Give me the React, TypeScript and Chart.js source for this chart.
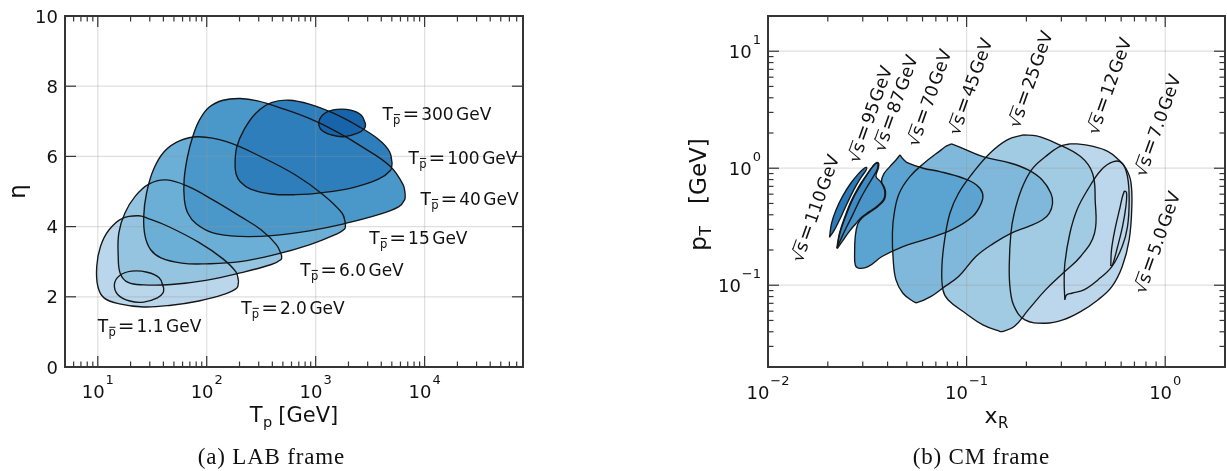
import React, { useEffect, useRef } from "react";
import { Chart, registerables } from "chart.js";
Chart.register(...registerables);

type P = [number, number];

// ---------------- (a) LAB frame ----------------
const labNames = ["1.1", "2.0", "6.0", "15", "40", "100", "300"];
const lab11: P[] = [[40.3,2.25],[36.6,2.54],[28.4,2.70],[20.4,2.73],[15.8,2.60],[14.2,2.35],[15.3,2.06],[19.7,1.88],[26.4,1.85],[35.3,1.97],[39.7,2.11],[40.3,2.25]];
const lab20: P[] = [[196,2.44],[186,2.70],[141,3.08],[84.7,3.55],[43.9,4.01],[28.4,4.24],[23.7,4.31],[17.0,4.24],[12.7,3.91],[10.6,3.44],[9.78,2.87],[10.0,2.30],[11.4,1.97],[15.8,1.80],[26.4,1.71],[47.3,1.76],[84.7,1.88],[141,2.06],[189,2.25],[196,2.44]];
const lab60: P[] = [[488,3.17],[437,3.48],[315,3.91],[203,4.29],[114,4.76],[68.1,5.14],[42.4,5.33],[29.4,5.21],[22.0,4.86],[17.7,4.38],[15.6,3.82],[15.4,3.15],[16.1,2.66],[19.0,2.41],[26.4,2.34],[47.3,2.35],[98.0,2.47],[203,2.68],[392,2.92],[481,3.06],[488,3.17]];
const lab15: P[] = [[1879,4.08],[1750,4.38],[1169,4.91],[653,5.47],[315,5.99],[152,6.42],[84.7,6.56],[56.8,6.45],[40.8,6.14],[32.4,5.62],[28.0,4.95],[26.4,4.29],[27.2,3.72],[30.6,3.34],[38.0,3.11],[58.9,2.96],[98.0,2.94],[203,3.00],[422,3.20],[874,3.48],[1510,3.77],[1842,3.93],[1879,4.08]];
const lab40: P[] = [[6643,4.91],[6353,5.19],[4853,5.71],[2812,6.23],[1567,6.70],[874,7.08],[488,7.37],[293,7.58],[203,7.65],[141,7.60],[105,7.40],[85.9,7.04],[74.3,6.56],[66.6,5.99],[62.0,5.33],[62.4,4.76],[67.1,4.38],[80.0,4.08],[114,3.82],[203,3.72],[422,3.75],[874,3.88],[1813,4.08],[3762,4.34],[5816,4.57],[6546,4.76],[6643,4.91]];
const lab100: P[] = [[5036,5.80],[4756,6.14],[3762,6.49],[2428,6.87],[1455,7.23],[874,7.49],[565,7.60],[392,7.53],[282,7.23],[219,6.75],[189,6.28],[182,5.80],[186,5.50],[203,5.28],[253,5.07],[392,4.93],[653,4.91],[1169,4.97],[2254,5.12],[3762,5.35],[4853,5.60],[5036,5.80]];
const lab300: P[] = [[2873,6.92],[2612,7.18],[2098,7.32],[1567,7.34],[1213,7.23],[1072,6.99],[1131,6.75],[1405,6.61],[1813,6.56],[2428,6.66],[2812,6.80],[2873,6.92]];
const labLabelX = [10, 207, 721, 3110, 9160, 7110, 4100];
const labLabelY = [1.16, 1.70, 2.78, 3.69, 4.80, 5.97, 7.22];
const labXMajor = [10, 100, 1000, 10000];
const labXExp = ["1", "2", "3", "4"];
const labYTicks = [0, 2, 4, 6, 8, 10];

// ---------------- (b) CM frame ----------------
const cmNames = ["5.0", "7.0", "12", "25", "45", "70", "87", "95", "110"];
const cm5: P[] = [[0.532,0.146],[0.5365,0.2005],[0.5577,0.297],[0.5909,0.455],[0.621,0.631],[0.6384,0.619],[0.6335,0.470],[0.6095,0.317],[0.5730,0.207],[0.5428,0.149],[0.532,0.146]];
const cm7: P[] = [[0.3124,0.0749],[0.3100,0.1039],[0.3124,0.154],[0.3311,0.278],[0.3592,0.440],[0.4064,0.652],[0.4760,0.967],[0.5491,1.139],[0.6071,1.103],[0.6458,0.848],[0.6584,0.536],[0.6458,0.317],[0.6071,0.214],[0.5386,0.144],[0.4580,0.1110],[0.3895,0.0912],[0.3388,0.0854],[0.3185,0.0826],[0.3124,0.0749]];
const cm12: P[] = [[0.3311,1.613],[0.3592,1.613],[0.4224,1.551],[0.5162,1.388],[0.5842,1.177],[0.6335,0.999],[0.6713,0.769],[0.6791,0.470],[0.6584,0.244],[0.6071,0.144],[0.5386,0.0973],[0.4580,0.0749],[0.3748,0.0595],[0.3053,0.0505],[0.2497,0.0473],[0.1966,0.0505],[0.1737,0.0657],[0.1659,0.0912],[0.1639,0.144],[0.1671,0.278],[0.1737,0.412],[0.1884,0.652],[0.2123,0.967],[0.2497,1.257],[0.2938,1.531],[0.3311,1.613]];
const cm25: P[] = [[0.1928,1.926],[0.2250,1.888],[0.2826,1.634],[0.3748,1.257],[0.4305,0.906],[0.4440,0.536],[0.4406,0.278],[0.3748,0.176],[0.3053,0.1265],[0.2497,0.0912],[0.2043,0.0615],[0.1737,0.0443],[0.1511,0.0402],[0.1477,0.0402],[0.1208,0.0458],[0.0988,0.0576],[0.0808,0.0749],[0.0760,0.0912],[0.0751,0.144],[0.0775,0.244],[0.0824,0.412],[0.0911,0.611],[0.1072,0.906],[0.1310,1.342],[0.1602,1.746],[0.1928,1.926]];
const cm45: P[] = [[0.0840,1.613],[0.0911,1.531],[0.1208,1.257],[0.1671,1.103],[0.2043,0.967],[0.2403,0.794],[0.2657,0.611],[0.2709,0.502],[0.2606,0.412],[0.2403,0.361],[0.2043,0.317],[0.1671,0.278],[0.1367,0.228],[0.1114,0.176],[0.0911,0.1185],[0.0775,0.0973],[0.0659,0.0799],[0.0562,0.0710],[0.0539,0.0725],[0.0478,0.0854],[0.0441,0.1110],[0.0427,0.165],[0.0423,0.278],[0.0432,0.412],[0.0458,0.611],[0.0518,0.848],[0.0610,1.103],[0.0745,1.434],[0.0793,1.551],[0.0840,1.613]];
const cm70: P[] = [[0.0462,1.299],[0.0480,1.193],[0.0509,1.103],[0.0605,0.999],[0.0734,0.936],[0.0962,0.821],[0.1122,0.720],[0.1203,0.611],[0.1189,0.508],[0.1072,0.386],[0.0840,0.297],[0.0610,0.244],[0.0478,0.214],[0.0375,0.176],[0.0319,0.144],[0.0285,0.140],[0.0275,0.149],[0.0273,0.188],[0.0275,0.260],[0.0283,0.334],[0.0298,0.378],[0.0327,0.422],[0.0358,0.472],[0.0384,0.534],[0.0391,0.603],[0.0387,0.676],[0.0373,0.770],[0.0383,0.894],[0.0411,1.033],[0.0441,1.177],[0.0462,1.299]];
const cm87: P[] = [[0.0223,0.2056],[0.0230,0.278],[0.0246,0.386],[0.0266,0.536],[0.0293,0.720],[0.0319,0.906],[0.0339,1.046],[0.0352,1.117],[0.0361,1.095],[0.0359,0.999],[0.0350,0.848],[0.0369,0.769],[0.0384,0.674],[0.0388,0.603],[0.0381,0.536],[0.0355,0.476],[0.0324,0.426],[0.0296,0.381],[0.0276,0.334],[0.0254,0.282],[0.0238,0.2407],[0.0223,0.2056]];
const cm95: P[] = [[0.0222,0.207],[0.0229,0.278],[0.0244,0.386],[0.0264,0.536],[0.0290,0.720],[0.0316,0.894],[0.0336,1.033],[0.0350,1.103],[0.0358,1.088],[0.0355,0.980],[0.0339,0.848],[0.0316,0.697],[0.0290,0.536],[0.0267,0.399],[0.0247,0.307],[0.0232,0.244],[0.0222,0.207]];
const cm110: P[] = [[0.0204,0.257],[0.0209,0.339],[0.0220,0.440],[0.0238,0.580],[0.0261,0.744],[0.0285,0.894],[0.0304,0.993],[0.0314,1.013],[0.0311,0.954],[0.0296,0.848],[0.0279,0.720],[0.0261,0.580],[0.0244,0.455],[0.0229,0.361],[0.0215,0.293],[0.0204,0.257]];
const cmLabelX = [0.907, 0.912, 0.520, 0.2089, 0.1039, 0.0646, 0.04375, 0.0325, 0.01723];
const cmLabelY = [0.232, 2.32, 5.05, 5.765, 4.983, 4.012, 3.594, 2.894, 0.455];
const cmXMajor = [0.01, 0.1, 1];
const cmXExp = ["\u22122", "\u22121", "0"];
const cmYMajor = [0.1, 1, 10];
const cmYExp = ["\u22121", "0", "1"];

// ---------------- styling ----------------
const W = 1227, H = 471;
const SANS = '"DejaVu Sans", sans-serif';
const SERIF = '"Liberation Serif", "DejaVu Serif", serif';
const labColors = ["#bdd7ec", "#bad6eb", "#94c4df", "#6baed6", "#4a98c9", "#2e7ebc", "#1764ab"];
const cmColors = ["#bdd7ec", "#bdd7ec", "#bcd7eb", "#a1cbe2", "#7fb8da", "#5ba3d0", "#4a95c8", "#3d8bc4", "#2b7bba"];

function minorLog(lo: number, hi: number): number[] {
  const out: number[] = [];
  for (let e = Math.floor(Math.log10(lo)); e <= Math.ceil(Math.log10(hi)); e++) {
    for (let m = 2; m <= 9; m++) {
      const v = m * Math.pow(10, e);
      if (v > lo * 1.0001 && v < hi * 0.9999) out.push(v);
    }
  }
  return out;
}

type Piece = { t: string; s: number; dy?: number; gap?: number; bar?: "sub" | "sqrt"; f?: string };

function runWidth(ctx: CanvasRenderingContext2D, pcs: Piece[]) {
  let w = 0;
  for (const p of pcs) {
    ctx.font = `${p.s}px ${p.f || SANS}`;
    w += (p.gap || 0) + ctx.measureText(p.t).width;
  }
  return w;
}

function drawRun(ctx: CanvasRenderingContext2D, pcs: Piece[], x: number, y: number) {
  let cx = x;
  let sq: { x: number; top: number } | null = null;
  ctx.lineWidth = 1;
  for (const p of pcs) {
    cx += p.gap || 0;
    ctx.font = `${p.s}px ${p.f || SANS}`;
    const m = ctx.measureText(p.t);
    const by = y + (p.dy || 0);
    ctx.fillText(p.t, cx, by);
    if (p.t === "\u221A") sq = { x: cx + m.width, top: by - m.actualBoundingBoxAscent };
    if (p.bar === "sqrt" && sq) {
      ctx.beginPath();
      ctx.moveTo(sq.x - 0.8, sq.top + 0.6);
      ctx.lineTo(cx + m.width + 0.3, sq.top + 0.6);
      ctx.stroke();
    }
    if (p.bar === "sub") {
      const top = by - m.actualBoundingBoxAscent - 2.2;
      ctx.beginPath();
      ctx.moveTo(cx + 0.8, top);
      ctx.lineTo(cx + m.width - 0.3, top);
      ctx.stroke();
    }
    cx += m.width;
  }
}

function powPieces(e: string): Piece[] {
  return [{ t: "10", s: 18 }, { t: e, s: 13, dy: -14, gap: 1 }];
}

function drawFrame(ctx: CanvasRenderingContext2D, a: any, xs: any, ys: any,
  xMaj: number[], xMin: number[], yMaj: number[], yMin: number[]) {
  ctx.save();
  ctx.strokeStyle = "#353535";
  ctx.lineWidth = 1.2;
  const tick = (x1: number, y1: number, x2: number, y2: number) => {
    ctx.beginPath(); ctx.moveTo(x1, y1); ctx.lineTo(x2, y2); ctx.stroke();
  };
  const ML = 11, mL = 5.5;
  xMaj.forEach(v => { const px = xs.getPixelForValue(v); tick(px, a.bottom, px, a.bottom - ML); tick(px, a.top, px, a.top + ML); });
  xMin.forEach(v => { const px = xs.getPixelForValue(v); tick(px, a.bottom, px, a.bottom - mL); tick(px, a.top, px, a.top + mL); });
  yMaj.forEach(v => { const py = ys.getPixelForValue(v); tick(a.left, py, a.left + ML, py); tick(a.right, py, a.right - ML, py); });
  yMin.forEach(v => { const py = ys.getPixelForValue(v); tick(a.left, py, a.left + mL, py); tick(a.right, py, a.right - mL, py); });
  ctx.lineWidth = 2;
  ctx.strokeRect(a.left, a.top, a.right - a.left, a.bottom - a.top);
  ctx.restore();
}

function fillAndGrid(chart: any, colors: string[], xGrid: number[], yGrid: number[]) {
  const ctx: CanvasRenderingContext2D = chart.ctx;
  const a = chart.chartArea;
  const xs = chart.scales.x, ys = chart.scales.y;
  ctx.save();
  ctx.beginPath();
  ctx.rect(a.left, a.top, a.right - a.left, a.bottom - a.top);
  ctx.clip();
  colors.forEach((c, i) => {
    const line = chart.getDatasetMeta(i).dataset;
    if (!line) return;
    line.updateControlPoints(a, "x");
    ctx.beginPath();
    line.path(ctx);
    ctx.closePath();
    ctx.fillStyle = c;
    ctx.fill();
  });
  ctx.strokeStyle = "rgba(150,150,150,0.3)";
  ctx.lineWidth = 1.2;
  xGrid.forEach(v => { const px = xs.getPixelForValue(v); ctx.beginPath(); ctx.moveTo(px, a.top); ctx.lineTo(px, a.bottom); ctx.stroke(); });
  yGrid.forEach(v => { const py = ys.getPixelForValue(v); ctx.beginPath(); ctx.moveTo(a.left, py); ctx.lineTo(a.right, py); ctx.stroke(); });
  ctx.restore();
}

function drawCaption(ctx: CanvasRenderingContext2D, text: string, cx: number, y: number) {
  ctx.save();
  ctx.font = `23px ${SERIF}`;
  ctx.fillStyle = "#111";
  const sp = 0.8;
  const chars = Array.from(text);
  const total = chars.reduce((s, ch) => s + ctx.measureText(ch).width, 0) + sp * (chars.length - 1);
  let x = cx - total / 2;
  chars.forEach(ch => { ctx.fillText(ch, x, y); x += ctx.measureText(ch).width + sp; });
  ctx.restore();
}

const labPlugin = {
  id: "labDecor",
  beforeDatasetsDraw(chart: any) {
    fillAndGrid(chart, labColors, labXMajor, [2, 4, 6, 8]);
  },
  afterDatasetsDraw(chart: any) {
    const ctx: CanvasRenderingContext2D = chart.ctx;
    const a = chart.chartArea;
    const xs = chart.scales.x, ys = chart.scales.y;
    drawFrame(ctx, a, xs, ys, labXMajor, minorLog(5, 8e4), labYTicks, []);
    ctx.save();
    ctx.fillStyle = "#111";
    ctx.strokeStyle = "#111";
    ctx.textBaseline = "alphabetic";
    ctx.font = `18px ${SANS}`;
    ctx.textAlign = "right";
    labYTicks.forEach(v => ctx.fillText(String(v), a.left - 7, ys.getPixelForValue(v) + 6.5));
    ctx.textAlign = "left";
    labXMajor.forEach((v, i) => {
      const pcs = powPieces(labXExp[i]);
      const w = runWidth(ctx, pcs);
      drawRun(ctx, pcs, xs.getPixelForValue(v) - w / 2, a.bottom + 31);
    });
    const tp: Piece[] = [{ t: "T", s: 21 }, { t: "p", s: 14.5, dy: 5, gap: 0.5 }, { t: "[GeV]", s: 21, gap: 6 }];
    drawRun(ctx, tp, (a.left + a.right) / 2 - runWidth(ctx, tp) / 2, a.bottom + 55);
    ctx.save();
    ctx.translate(25, (a.top + a.bottom) / 2);
    ctx.rotate(-Math.PI / 2);
    ctx.font = `23px ${SANS}`;
    ctx.textAlign = "center";
    ctx.fillText("\u03B7", 0, 0);
    ctx.restore();
    labNames.forEach((n, i) => {
      const px = xs.getPixelForValue(labLabelX[i]);
      const py = ys.getPixelForValue(labLabelY[i]);
      const pcs: Piece[] = [
        { t: "T", s: 17 }, { t: "p", s: 11.5, dy: 4, gap: 0.3, bar: "sub" },
        { t: "=", s: 20, gap: 2 }, { t: n, s: 17, gap: 2 }, { t: "GeV", s: 17, gap: 2.5 },
      ];
      drawRun(ctx, pcs, px, py + 6.2);
    });
    ctx.restore();
    drawCaption(ctx, "(a) LAB frame", 271, 464);
  },
};

const cmPlugin = {
  id: "cmDecor",
  beforeDatasetsDraw(chart: any) {
    fillAndGrid(chart, cmColors, [0.1, 1], cmYMajor);
  },
  afterDatasetsDraw(chart: any) {
    const ctx: CanvasRenderingContext2D = chart.ctx;
    const a = chart.chartArea;
    const xs = chart.scales.x, ys = chart.scales.y;
    drawFrame(ctx, a, xs, ys, cmXMajor, minorLog(0.01, 2), cmYMajor, minorLog(0.02, 20));
    ctx.save();
    ctx.fillStyle = "#111";
    ctx.strokeStyle = "#111";
    ctx.textAlign = "left";
    ctx.textBaseline = "alphabetic";
    cmYMajor.forEach((v, i) => {
      const pcs = powPieces(cmYExp[i]);
      const w = runWidth(ctx, pcs);
      drawRun(ctx, pcs, a.left - 7 - w, ys.getPixelForValue(v) + 6.5);
    });
    cmXMajor.forEach((v, i) => {
      const pcs = powPieces(cmXExp[i]);
      const w = runWidth(ctx, pcs);
      drawRun(ctx, pcs, xs.getPixelForValue(v) - w / 2, a.bottom + 32);
    });
    const xr: Piece[] = [{ t: "x", s: 22 }, { t: "R", s: 15, dy: 5, gap: 0.5 }];
    drawRun(ctx, xr, (a.left + a.right) / 2 - runWidth(ctx, xr) / 2, a.bottom + 56);
    ctx.save();
    ctx.translate(706, (a.top + a.bottom) / 2 + 3);
    ctx.rotate(-Math.PI / 2);
    const pt: Piece[] = [{ t: "p", s: 23 }, { t: "T", s: 16, dy: 5, gap: 0.5 }, { t: "[GeV]", s: 23, gap: 22 }];
    drawRun(ctx, pt, -runWidth(ctx, pt) / 2, 0);
    ctx.restore();
    const ang = (70.5 * Math.PI) / 180;
    cmNames.forEach((n, i) => {
      const px = xs.getPixelForValue(cmLabelX[i]);
      const py = ys.getPixelForValue(cmLabelY[i]);
      const pcs: Piece[] = [
        { t: "\u221A", s: 17.5 }, { t: "s", s: 17.5, bar: "sqrt" },
        { t: "=", s: 20, gap: 2 }, { t: n, s: 17.5, gap: 2 }, { t: "GeV", s: 17.5, gap: 1.5 },
      ];
      ctx.save();
      ctx.translate(px, py);
      ctx.rotate(-ang);
      drawRun(ctx, pcs, -runWidth(ctx, pcs) / 2, 6.3);
      ctx.restore();
    });
    ctx.restore();
    drawCaption(ctx, "(b) CM frame", 981, 464);
  },
};

function makeDatasets(contours: P[][], names: string[]) {
  return contours.map((pts, i) => ({
    label: names[i],
    data: pts.map(([x, y]) => ({ x, y })),
    showLine: true,
    fill: false,
    pointRadius: 0,
    pointHoverRadius: 0,
    borderColor: "#161616",
    borderWidth: 1.35,
    tension: 0.4,
  }));
}

function baseOptions(pad: any, xScale: any, yScale: any) {
  return {
    responsive: false,
    animation: false as const,
    events: [] as any[],
    layout: { padding: pad },
    plugins: { legend: { display: false }, tooltip: { enabled: false }, title: { display: false } },
    scales: { x: { ...xScale, display: false }, y: { ...yScale, display: false } },
  };
}

function LabChart() {
  const ref = useRef<HTMLCanvasElement>(null);
  useEffect(() => {
    const chart = new Chart(ref.current as HTMLCanvasElement, {
      type: "scatter",
      data: { datasets: makeDatasets([lab11, lab20, lab60, lab15, lab40, lab100, lab300], labNames) as any },
      options: baseOptions({ left: 65, right: W - 523, top: 16, bottom: H - 367 },
        { type: "logarithmic", min: 5, max: 8e4 }, { type: "linear", min: 0, max: 10 }) as any,
      plugins: [labPlugin],
    });
    return () => chart.destroy();
  }, []);
  return <canvas ref={ref} width={W} height={H} style={{ position: "absolute", left: 0, top: 0 }} />;
}

function CmChart() {
  const ref = useRef<HTMLCanvasElement>(null);
  useEffect(() => {
    const chart = new Chart(ref.current as HTMLCanvasElement, {
      type: "scatter",
      data: { datasets: makeDatasets([cm5, cm7, cm12, cm25, cm45, cm70, cm87, cm95, cm110], cmNames) as any },
      options: baseOptions({ left: 768, right: W - 1225, top: 16, bottom: H - 367 },
        { type: "logarithmic", min: 0.01, max: 2 }, { type: "logarithmic", min: 0.02, max: 20 }) as any,
      plugins: [cmPlugin],
    });
    return () => chart.destroy();
  }, []);
  return <canvas ref={ref} width={W} height={H} style={{ position: "absolute", left: 0, top: 0 }} />;
}

export default function App() {
  useEffect(() => {
    document.body.style.margin = "0";
  }, []);
  return (
    <div style={{ position: "absolute", left: 0, top: 0, width: W, height: H, background: "#fff", overflow: "hidden" }}>
      <LabChart />
      <CmChart />
    </div>
  );
}
